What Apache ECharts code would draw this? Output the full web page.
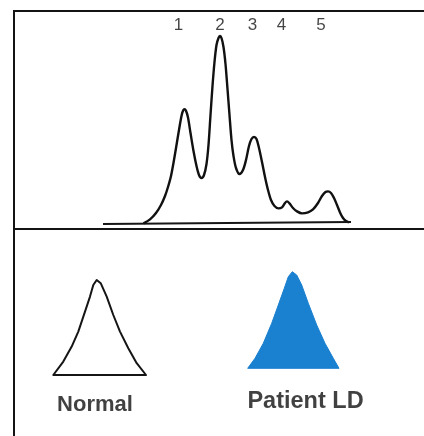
<!DOCTYPE html>
<html><head><meta charset="utf-8">
<style>html,body{margin:0;padding:0;background:#fff}#c{width:424px;height:436px}</style>
<script src="https://cdn.jsdelivr.net/npm/echarts/dist/echarts.min.js"></script>
</head><body><div id="c"></div>
<script>
// Upper panel: densitometric scan (migration position, absorbance; arbitrary units)
const scanX = [25.9, 27.2, 28.4, 29.4, 30.2, 30.8, 31.4, 32.0, 32.6, 33.1, 33.5, 33.8, 34.1, 34.4, 34.8, 35.3, 35.9, 36.5, 37.0, 37.5,
  38.0, 38.5, 38.9, 39.3, 39.7, 40.1, 40.5, 40.9, 41.2, 41.5, 41.9, 42.3, 42.7, 43.1, 43.5, 43.9, 44.4, 45.1,
  45.8, 46.4, 47.0, 47.5, 48.0, 48.5, 49.0, 49.6, 50.2, 50.8, 51.4, 52.1, 52.9, 53.6, 54.2, 54.6, 55.1, 55.8, 56.6, 57.6,
  58.8, 59.8, 60.8, 61.6, 62.3, 62.8, 63.4, 64.0, 64.6, 65.2, 65.8, 66.4, 67.0];
const scanY = [0.3, 2.3, 5.5, 9.5, 14, 18.5, 24, 32, 41, 48.5, 54, 56.6, 57.4, 56.6, 53.2, 45.5, 36.5, 29, 24.5, 23,
  24.5, 30, 39.5, 54.5, 69, 81, 89.5, 93, 94, 93, 88.5, 80, 67.5, 54.5, 42, 34, 28, 25,
  27, 32, 39, 42.5, 43.5, 42.5, 38, 31, 23.5, 17, 12, 9, 7.8, 8.3, 10.5, 11.3, 10.3, 8, 6.3, 5.3,
  5.8, 7.3, 10.5, 14, 16, 16.3, 15.5, 13, 9.5, 5.8, 3, 1.5, 0.8];
const baselineX = [17.8, 67.4];
const baselineY = [0, 1];
const peakLabels = ['1', '2', '3', '4', '5'];
const peakLabelX = [32.9, 41.2, 47.7, 53.5, 61.4];
const peakLabelY = [99.5, 99.5, 99.5, 99.5, 99.5];

// Lower panel: band shapes
const normalX = [7.86, 9.86, 11.54, 12.86, 14.2, 15.2, 15.86, 16.54, 17.34, 18.54, 19.86, 21.2, 22.86, 24.54, 26.4];
const normalY = [35.5, 42.2, 49.7, 57.2, 67.2, 74.7, 80.5, 83, 81.4, 74.7, 65.5, 57.2, 48.9, 41.4, 35.5];
const patientX = [46.74, 48.2, 49.86, 51.54, 52.86, 54.06, 54.86, 55.66, 56.54, 57.54, 58.86, 60.54, 62.2, 63.86, 65];
const patientY = [38.85, 43.85, 51.35, 61.35, 70.5, 78.85, 84.65, 87.15, 85.5, 80.5, 71.35, 60.5, 51.35, 43.85, 38.85];
const shapeNames = ['Normal', 'Patient LD'];
const shapeLabelX = [16.2, 58.3];
const shapeLabelY = [20.6, 22.2];
const shapeLabelSize = [22, 23.5];

const zip = (xs, ys) => xs.map((x, i) => [x, ys[i]]);

function shapeSeries(name, xs, ys, style) {
  const pts = zip(xs, ys);
  return {
    name: name, type: 'custom', xAxisIndex: 1, yAxisIndex: 1,
    data: pts, silent: true,
    renderItem: function (params, api) {
      if (params.dataIndex !== 0) return null;
      return {
        type: 'polygon',
        shape: { points: pts.map(p => api.coord(p)) },
        style: Object.assign({ lineJoin: 'round' }, style)
      };
    }
  };
}

const chart = echarts.init(document.getElementById('c'), null, { renderer: 'canvas' });
chart.setOption({
  animation: false,
  backgroundColor: '#ffffff',
  textStyle: { fontFamily: 'Liberation Sans, Arial, sans-serif' },
  grid: [
    { left: 14, top: 11, right: -10, bottom: 207, outerBoundsMode: 'none', containLabel: false, show: true, borderColor: '#141414', borderWidth: 2, backgroundColor: 'transparent' },
    { left: 14, top: 229, right: -10, bottom: -10, outerBoundsMode: 'none', containLabel: false, show: true, borderColor: '#141414', borderWidth: 2, backgroundColor: 'transparent' }
  ],
  xAxis: [
    { type: 'value', gridIndex: 0, min: 0, max: 84, show: false },
    { type: 'value', gridIndex: 1, min: 0, max: 84, show: false }
  ],
  yAxis: [
    { type: 'value', gridIndex: 0, min: -2.5, max: 106.5, show: false },
    { type: 'value', gridIndex: 1, min: 0, max: 108.5, show: false }
  ],
  series: [
    {
      name: 'baseline', type: 'line', xAxisIndex: 0, yAxisIndex: 0,
      data: zip(baselineX, baselineY), symbol: 'none',
      lineStyle: { color: '#161616', width: 1.8 }
    },
    {
      name: 'scan', type: 'line', xAxisIndex: 0, yAxisIndex: 0,
      data: zip(scanX, scanY), symbol: 'none', smooth: 0.3,
      lineStyle: { color: '#111111', width: 2.4, join: 'round' }
    },
    {
      name: 'peaks', type: 'scatter', xAxisIndex: 0, yAxisIndex: 0,
      data: peakLabels.map((l, i) => ({ name: l, value: [peakLabelX[i], peakLabelY[i]] })),
      symbolSize: 0,
      label: { show: true, position: 'inside', formatter: '{b}', color: '#141414', fontSize: 17, fontFamily: 'Liberation Sans, Arial, sans-serif' }
    },
    shapeSeries('Normal', normalX, normalY, { fill: 'transparent', stroke: '#151515', lineWidth: 2 }),
    shapeSeries('Patient LD', patientX, patientY, { fill: '#1a80d0', stroke: '#1a80d0', lineWidth: 1 }),
    {
      name: 'names', type: 'scatter', xAxisIndex: 1, yAxisIndex: 1,
      data: shapeNames.map((n, i) => ({
        name: n, value: [shapeLabelX[i], shapeLabelY[i]],
        label: { fontSize: shapeLabelSize[i] }
      })),
      symbolSize: 0,
      label: { show: true, position: 'inside', formatter: '{b}', color: '#111111', fontWeight: 'bold', fontFamily: 'Liberation Sans, Arial, sans-serif' }
    }
  ]
});
</script>
</body></html>
